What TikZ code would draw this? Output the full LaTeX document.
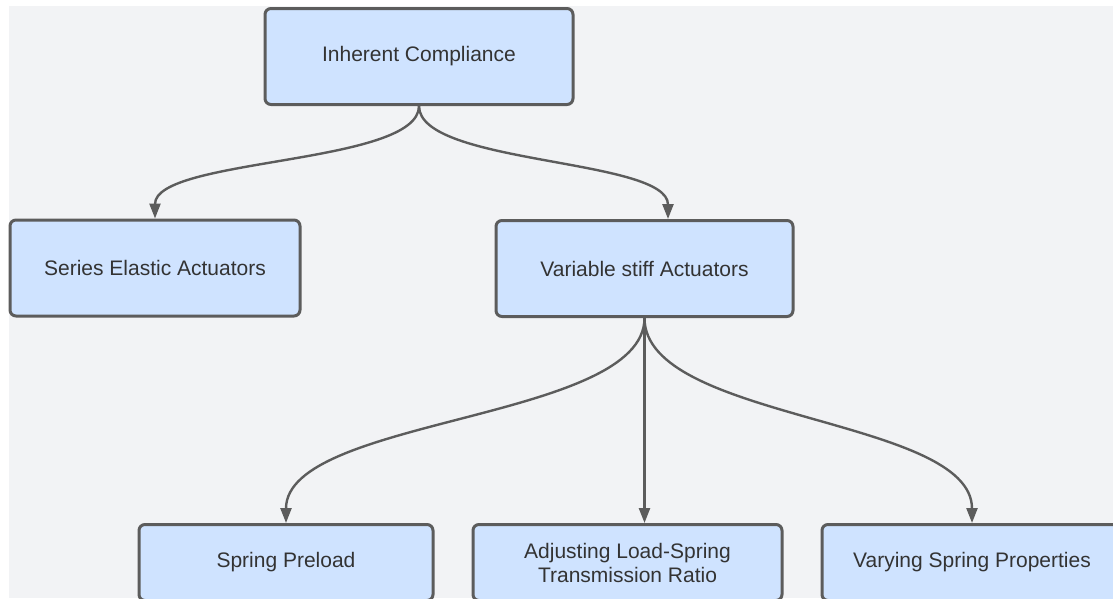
\documentclass[tikz,border=0pt]{standalone}
\usepackage{fontspec}
\setmainfont{Liberation Sans}
\usepackage{tikz}
\usetikzlibrary{arrows.meta,positioning,calc}
\definecolor{canvas}{HTML}{F2F3F5}
\definecolor{boxfill}{HTML}{CFE3FF}
\definecolor{edge}{HTML}{5C5C5C}
\definecolor{ink}{HTML}{333333}
\tikzset{
  >={Triangle[length=15pt,width=11pt]},
  link/.style={->,line width=2.4pt,draw=edge},
  box/.style={rectangle,rounded corners=6pt,draw=edge,line width=3pt,fill=boxfill,
    text=ink,align=center,minimum height=96pt,font=\fontsize{21}{24}\selectfont}
}

\begin{document}
\begin{tikzpicture}[x=1pt,y=-1pt]
  \useasboundingbox (0,0) rectangle (1113,598);
  \clip (0,0) rectangle (1113,598);
  \fill[canvas] (9,6) rectangle (1113,598);
  % first two levels
  \node[box,minimum width=308pt] (top) at (419,56.5) {Inherent Compliance};
  \node[box,minimum width=290pt] (sea) at (155,268) {Series Elastic Actuators};
  \node[box,minimum width=297pt] (vsa) at (644.5,268.5) {Variable stiff Actuators};
  % bottom row, cut by the page edge
  \node[box,minimum width=294pt,minimum height=76pt,anchor=north] (preload) at (286,523) {Spring Preload};
  \node[box,minimum width=309pt,minimum height=76pt,right=37pt of preload] (ratio) {Adjusting Load-Spring\\Transmission Ratio};
  \node[box,minimum width=300pt,minimum height=76pt,right=37pt of ratio] (props) {Varying Spring Properties};
  \draw[link] (top.south) .. controls +(0,59) and +(0,-61) .. (sea.north);
  \draw[link] (top.south) .. controls +(0,59) and +(0,-61) .. ([xshift=23.5pt]vsa.north);
  \draw[link] (vsa.south) .. controls +(0,103) and +(0,-106) .. (preload.north);
  \draw[link] (vsa.south) -- (vsa.south |- ratio.north);
  \draw[link] (vsa.south) .. controls +(0,103) and +(0,-106) .. (props.north);
\end{tikzpicture}
\end{document}
